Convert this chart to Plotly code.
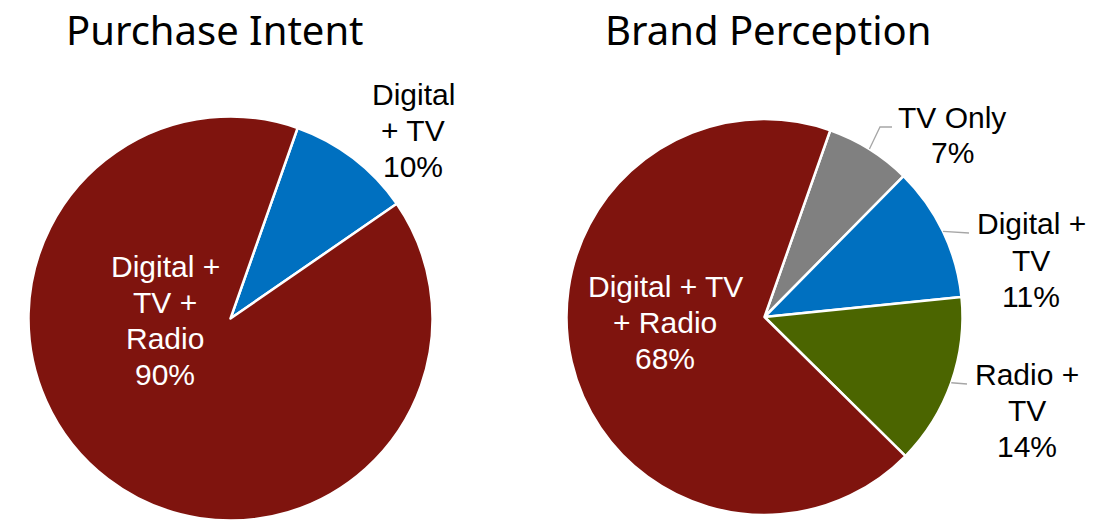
import math

import plotly.graph_objects as go

W, H = 1111, 521

intent_labels = ["Digital + TV", "Digital + TV + Radio"]
intent_values = [10, 90]
intent_wrapped = ["Digital<br>+ TV", "Digital +<br>TV +<br>Radio"]

perception_labels = ["TV Only", "Digital + TV", "Radio + TV", "Digital + TV + Radio"]
perception_values = [7, 11, 14, 68]
perception_wrapped = ["TV Only", "Digital +<br>TV", "Radio +<br>TV", "Digital + TV<br>+ Radio"]

titles = ["Purchase Intent", "Brand Perception"]

colors = {
    "TV Only": "#808080",
    "Digital + TV": "#0070C0",
    "Radio + TV": "#4B6500",
    "Digital + TV + Radio": "#7F140E",
}

FIRST_ANGLE = 19.4
LINE_H = 36
LABEL_FONT = "Liberation Sans, Arial, sans-serif"
PAGE_OFFSET = 8  # default body margin of the html page


def px(x):
    return (x - PAGE_OFFSET) / W


def py(y):
    return 1 - (y - PAGE_OFFSET) / H


def edge_point(cx, cy, r, values, i):
    total = sum(values)
    start = FIRST_ANGLE + 360 * sum(values[:i]) / total
    mid = math.radians(start + 180 * values[i] / total)
    return cx + r * math.sin(mid), cy - r * math.cos(mid)


pies = [
    dict(labels=intent_labels, values=intent_values, wrapped=intent_wrapped,
         cx=230.5, cy=318.5, r=202,
         text_pos=[(413, 130), (165, 320)],
         leaders={}),
    dict(labels=perception_labels, values=perception_values, wrapped=perception_wrapped,
         cx=764.5, cy=317, r=198,
         text_pos=[(952, 135), (1031, 260), (1027, 410), (665, 322)],
         leaders={0: [(880, 127), (892, 127)], 1: [(969, 233)], 2: [(967, 384)]}),
]

fig = go.Figure()
annotations = []
shapes = []

for p in pies:
    cx, cy, r = p["cx"], p["cy"], p["r"]
    fig.add_trace(
        go.Pie(
            labels=p["labels"],
            values=p["values"],
            sort=False,
            direction="clockwise",
            rotation=FIRST_ANGLE,
            textinfo="none",
            hoverinfo="label+percent",
            marker=dict(
                colors=[colors[l] for l in p["labels"]],
                line=dict(color="white", width=2.5),
            ),
            domain=dict(x=[px(cx - r), px(cx + r)], y=[py(cy + r), py(cy - r)]),
            showlegend=False,
        )
    )

    for i, (wrapped, v) in enumerate(zip(p["wrapped"], p["values"])):
        lines = wrapped.split("<br>") + [f"{v}%"]
        tx, ty = p["text_pos"][i]
        inside = p["labels"][i] == "Digital + TV + Radio"
        top = ty - LINE_H * (len(lines) - 1) / 2
        for k, line in enumerate(lines):
            annotations.append(
                dict(
                    x=px(tx), y=py(top + k * LINE_H), xref="paper", yref="paper",
                    text=line, showarrow=False, xanchor="center", yanchor="middle",
                    font=dict(family=LABEL_FONT, size=30,
                              color="white" if inside else "black"),
                )
            )

    for i, pts in p["leaders"].items():
        sx, sy = edge_point(cx, cy, r, p["values"], i)
        path = f"M {px(sx)} {py(sy)}" + "".join(f" L {px(x)} {py(y)}" for x, y in pts)
        shapes.append(
            dict(type="path", path=path, xref="paper", yref="paper",
                 line=dict(color="#A6A6A6", width=1.3))
        )

for title, x in zip(titles, [215, 768]):
    annotations.append(
        dict(
            x=px(x), y=py(30), xref="paper", yref="paper", text=title,
            showarrow=False, xanchor="center", yanchor="middle",
            font=dict(family="Noto Sans, Open Sans, sans-serif", size=40, color="black"),
        )
    )

fig.update_layout(
    width=W,
    height=H,
    margin=dict(l=0, r=0, t=0, b=0),
    paper_bgcolor="white",
    plot_bgcolor="white",
    annotations=annotations,
    shapes=shapes,
)

fig.write_html("out.html")
